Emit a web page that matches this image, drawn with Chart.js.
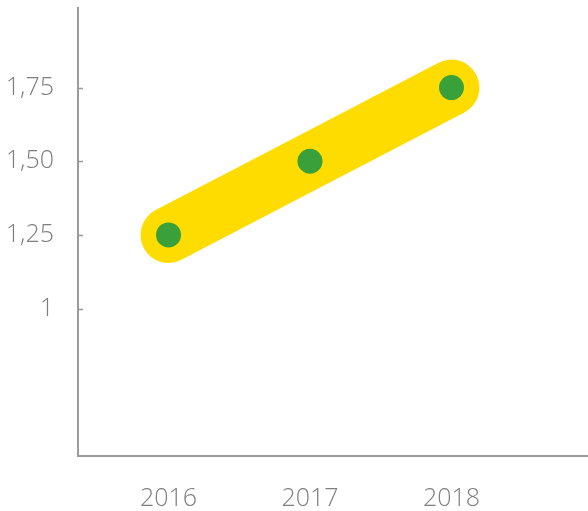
<!DOCTYPE html>
<html lang="en">
<head>
    <meta charset="UTF-8">
    <title>2016-2018</title>
    <script src="https://cdn.jsdelivr.net/npm/chart.js"></script>
    <style>
        body {
            margin: 0;
            background: #fff;
        }
        #wrap {
            width: 588px;
            height: 511px;
        }
    </style>
</head>
<body>
    <div id="wrap"><canvas id="chart" width="588" height="511"></canvas></div>

    <script>
        // data
        const years = [2016, 2017, 2018];
        const values = [1.25, 1.5, 1.75];
        const yTickValues = [1, 1.25, 1.5, 1.75];
        const yTickLabels = ['1', '1,25', '1,50', '1,75'];

        const axisColor = '#9b9b9b';
        const labelColor = '#7e7e7e';

        // short ticks pointing into the plot area on the y axis
        const innerTicks = {
            id: 'innerTicks',
            afterDraw(chart) {
                const ctx = chart.ctx;
                const y = chart.scales.y;
                ctx.save();
                ctx.strokeStyle = axisColor;
                ctx.lineWidth = 1.5;
                yTickValues.forEach(v => {
                    const py = Math.round(y.getPixelForValue(v)) + 0.5;
                    ctx.beginPath();
                    ctx.moveTo(y.right, py);
                    ctx.lineTo(y.right + 5, py);
                    ctx.stroke();
                });
                ctx.restore();
            }
        };

        const ctx = document.getElementById('chart').getContext('2d');
        new Chart(ctx, {
            type: 'line',
            data: {
                datasets: [{
                    data: years.map((yr, i) => ({ x: yr, y: values[i] })),
                    borderColor: '#ffdc00',
                    borderWidth: 56,
                    borderCapStyle: 'round',
                    borderJoinStyle: 'round',
                    pointRadius: 12.5,
                    pointHoverRadius: 12.5,
                    pointBackgroundColor: '#39a03a',
                    pointBorderWidth: 0,
                    clip: false
                }]
            },
            options: {
                responsive: false,
                animation: false,
                layout: { autoPadding: false, padding: { top: 8, right: 0, left: 0, bottom: 0 } },
                plugins: {
                    legend: { display: false },
                    tooltip: { enabled: false }
                },
                scales: {
                    x: {
                        type: 'linear',
                        min: 2015.36,
                        max: 2018.965,
                        afterBuildTicks: s => { s.ticks = years.map(v => ({ value: v })); },
                        afterFit: s => { s.height = 55; s.paddingLeft = 0; s.paddingRight = 0; },
                        grid: { display: false },
                        border: { color: axisColor, width: 2 },
                        ticks: {
                            color: labelColor,
                            padding: 20,
                            font: { family: '"Open Sans", sans-serif', size: 25, weight: 300 },
                            callback: v => String(v)
                        }
                    },
                    y: {
                        min: 0.5,
                        max: 2.02,
                        afterBuildTicks: s => { s.ticks = yTickValues.map(v => ({ value: v })); },
                        afterFit: s => { s.width = 78; s.paddingTop = 0; s.paddingBottom = 0; },
                        grid: { display: false },
                        border: { color: axisColor, width: 2 },
                        ticks: {
                            color: labelColor,
                            padding: 16,
                            font: { family: '"Open Sans", sans-serif', size: 25, weight: 300 },
                            callback: v => yTickLabels[yTickValues.indexOf(v)]
                        }
                    }
                }
            },
            plugins: [innerTicks]
        });
    </script>
</body>
</html>
